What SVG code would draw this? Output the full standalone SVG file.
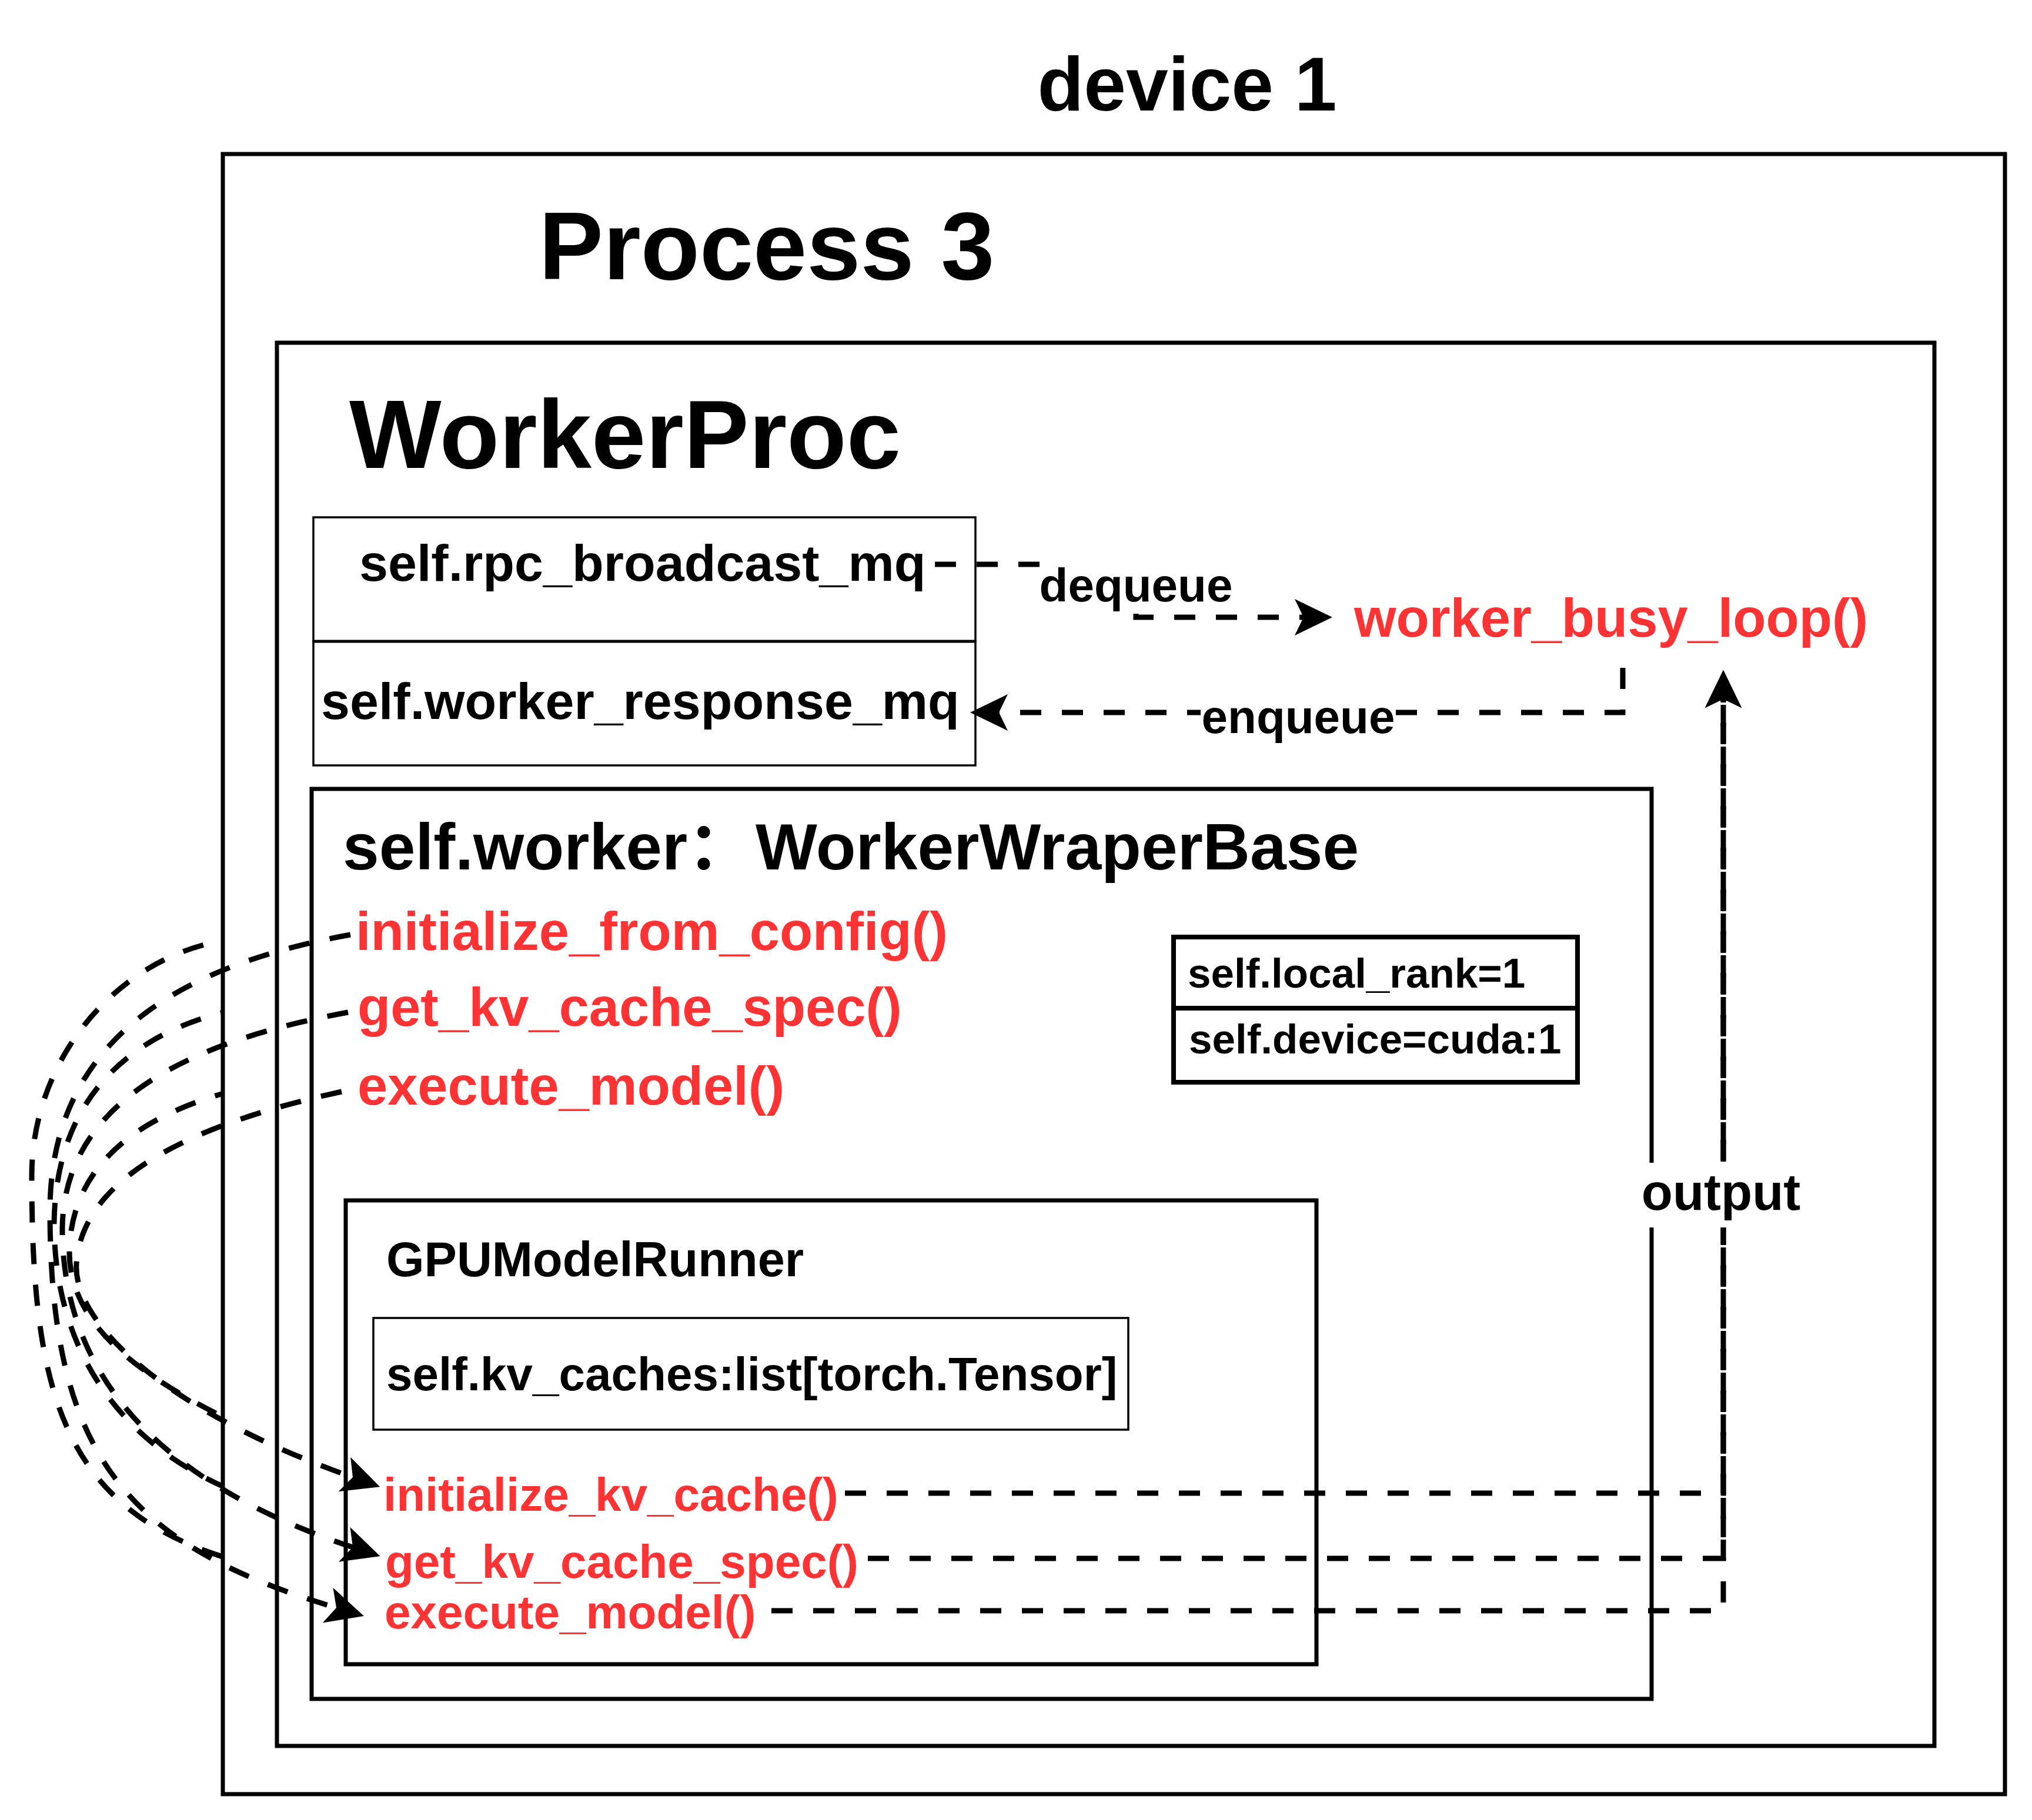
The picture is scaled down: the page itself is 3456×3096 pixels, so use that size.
<svg xmlns="http://www.w3.org/2000/svg" width="3456" height="3096" viewBox="0 0 3456 3096">
<defs>
<style>
.t{font-family:"Liberation Sans",Arial,"Noto Sans CJK SC",sans-serif;font-weight:bold;fill:#000}
.r{fill:#FF3333}
.box{fill:#fff;stroke:#000}
.e{fill:none;stroke:#000;stroke-width:9;stroke-dasharray:36 35}
</style>
<marker id="arr" markerUnits="userSpaceOnUse" viewBox="0 -32 66 64" markerWidth="66" markerHeight="64" refX="15" refY="0" orient="auto">
<path d="M0,-31 L64,0 L0,31 L15,0 Z" fill="#000"/>
</marker>
</defs>
<rect width="3456" height="3096" fill="#fff"/>

<g id="hidden-edges">
<path class="e" stroke-dashoffset="36" d="M380,1600 C200,1630 54,1800 54,2000 C54,2380 110,2580 420,2660"/>
<path class="e" stroke-dashoffset="31" d="M380,1722 C230,1760 95,1860 92,2080 C92,2330 240,2480 420,2545"/>
<path class="e" stroke-dashoffset="21" d="M380,1860 C240,1900 120,1980 118,2130 C118,2260 250,2350 420,2430"/>
</g>

<g id="device1">
<text class="t" x="2019" y="188" font-size="129" text-anchor="middle">device 1</text>
<rect class="box" x="379" y="262" width="3031" height="2790" stroke-width="7"/>
</g>

<g id="process3">
<rect class="box" x="471" y="583" width="2819" height="2387" stroke-width="7"/>
<text class="t" x="1304" y="475" font-size="164" text-anchor="middle">Process 3</text>
</g>

<g id="workerproc">
<text class="t" x="1063" y="796" font-size="166" text-anchor="middle">WorkerProc</text>
</g>

<g id="rpc_broadcast_mq">
<rect class="box" x="533" y="880" width="1126" height="211" stroke-width="3.5"/>
<text class="t" x="611" y="988" font-size="88">self.rpc_broadcast_mq</text>
</g>

<g id="worker_response_mq">
<rect class="box" x="533" y="1091" width="1126" height="211" stroke-width="3.5"/>
<line x1="533" y1="1091" x2="1659" y2="1091" stroke="#000" stroke-width="5"/>
<text class="t" x="546" y="1223" font-size="88">self.worker_response_mq</text>
</g>

<g id="worker_busy_loop">
<text class="t r" x="2303" y="1083" font-size="92">worker_busy_loop()</text>
</g>

<g id="worker">
<rect class="box" x="530" y="1342" width="2279" height="1548" stroke-width="7"/>
<text class="t" x="583" y="1479" font-size="111">self.worker<tspan font-family="'Noto Sans CJK SC',sans-serif">：</tspan><tspan x="1285">WorkerWraperBase</tspan></text>
</g>

<g id="initialize_from_config">
<text class="t r" x="605" y="1616" font-size="92">initialize_from_config()</text>
</g>
<g id="get_kv_cache_spec_outer">
<text class="t r" x="608" y="1745" font-size="92">get_kv_cache_spec()</text>
</g>
<g id="execute_model_outer">
<text class="t r" x="608" y="1879" font-size="92">execute_model()</text>
</g>

<g id="local_rank">
<rect class="box" x="1996" y="1594" width="687" height="121" stroke-width="8"/>
<text class="t" x="2020" y="1680" font-size="71">self.local_rank=1</text>
</g>
<g id="device_attr">
<rect class="box" x="1996" y="1715" width="687" height="126" stroke-width="8"/>
<text class="t" x="2022" y="1792" font-size="71">self.device=cuda:1</text>
</g>

<g id="gpu_model_runner">
<rect class="box" x="588" y="2042" width="1651" height="789" stroke-width="7"/>
<text class="t" x="657" y="2171" font-size="83">GPUModelRunner</text>
</g>

<g id="kv_caches">
<rect class="box" x="635" y="2242" width="1284" height="190" stroke-width="3.5"/>
<text class="t" x="657" y="2365" font-size="80">self.kv_caches:list[torch.Tensor]</text>
</g>

<g id="initialize_kv_cache">
<text class="t r" x="652" y="2570" font-size="80">initialize_kv_cache()</text>
</g>
<g id="get_kv_cache_spec_inner">
<text class="t r" x="655" y="2684" font-size="80">get_kv_cache_spec()</text>
</g>
<g id="execute_model_inner">
<text class="t r" x="654" y="2770" font-size="80">execute_model()</text>
</g>

<g id="connectors">
<path class="e" d="M596,1590 C320,1640 85,1760 85,2060 C85,2480 220,2630 572,2735" marker-end="url(#arr)"/>
<path class="e" d="M592,1722 C330,1770 108,1870 106,2090 C106,2330 260,2520 600,2632" marker-end="url(#arr)"/>
<path class="e" d="M581,1857 C360,1905 140,1990 130,2150 C124,2250 280,2400 600,2513" marker-end="url(#arr)"/>

<path class="e" d="M1590,960 H1932 V1050 H2217" marker-end="url(#arr)"/>
<path class="e" d="M2760,1136 V1212 H1699" marker-end="url(#arr)"/>

<path class="e" d="M1437,2540 H2931 V1189" marker-end="url(#arr)"/>
<path class="e" d="M1476,2651 H2931 V1189" marker-end="url(#arr)"/>
<path class="e" d="M1312,2740 H2931 V1189" marker-end="url(#arr)"/>

<rect x="1768" y="950" width="330" height="94" fill="#fff"/>
<text class="t" x="1932" y="1023" font-size="80" text-anchor="middle">dequeue</text>
<rect x="2042" y="1172" width="332" height="92" fill="#fff"/>
<text class="t" x="2208" y="1247" font-size="80" text-anchor="middle">enqueue</text>
<rect x="2788" y="1978" width="278" height="110" fill="#fff"/>
<text class="t" x="2927" y="2058" font-size="87" text-anchor="middle">output</text>
</g>
</svg>
